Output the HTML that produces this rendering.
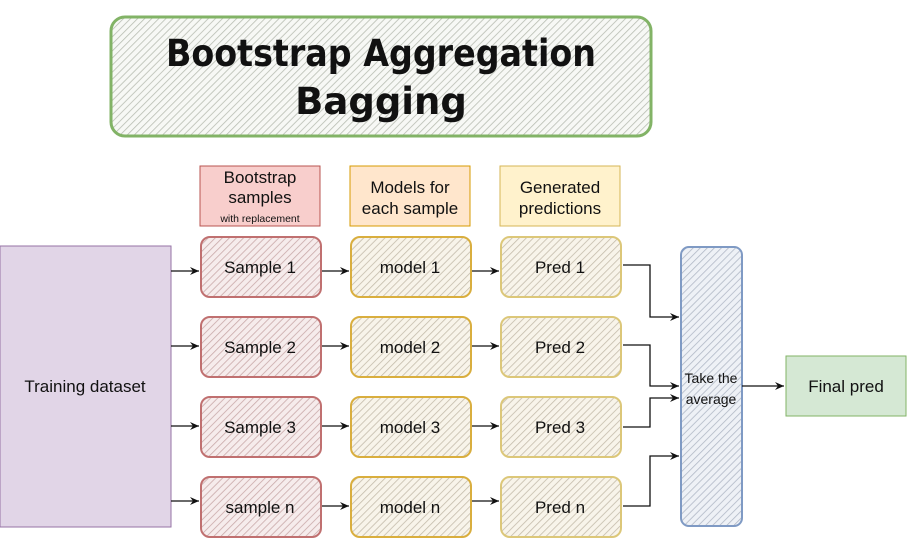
<!DOCTYPE html>
<html><head><meta charset="utf-8"><style>
html,body{margin:0;padding:0;background:#fff;width:910px;height:541px;overflow:hidden}
svg text{font-family:"Liberation Sans",sans-serif;fill:#111}
</style></head><body>
<svg width="910" height="541" viewBox="0 0 910 541" xmlns="http://www.w3.org/2000/svg">
<defs>
<pattern id="hg" width="5" height="5" patternUnits="userSpaceOnUse" patternTransform="rotate(45)"><rect width="5" height="5" fill="#f7f8f5"/><line x1="0" y1="0" x2="0" y2="5" stroke="#b8bdb2" stroke-width="1.6"/></pattern>
<pattern id="hr" width="5" height="5" patternUnits="userSpaceOnUse" patternTransform="rotate(45)"><rect width="5" height="5" fill="#f6ecec"/><line x1="0" y1="0" x2="0" y2="5" stroke="#c9a9a9" stroke-width="1.6"/></pattern>
<pattern id="hy" width="5" height="5" patternUnits="userSpaceOnUse" patternTransform="rotate(45)"><rect width="5" height="5" fill="#f8f4ea"/><line x1="0" y1="0" x2="0" y2="5" stroke="#c4bcab" stroke-width="1.6"/></pattern>
<pattern id="hb" width="5" height="5" patternUnits="userSpaceOnUse" patternTransform="rotate(45)"><rect width="5" height="5" fill="#eef1f6"/><line x1="0" y1="0" x2="0" y2="5" stroke="#b1b8c6" stroke-width="1.6"/></pattern>
<marker id="a" markerWidth="10" markerHeight="8" refX="9" refY="4" orient="auto" markerUnits="userSpaceOnUse"><path d="M0,0 L9,4 L0,8 L3,4 Z" fill="#111"/></marker>
</defs>

<rect x="111" y="17" width="540" height="119" rx="14" fill="url(#hg)" stroke="#82b366" stroke-width="3"/>
<text x="381" y="66" font-size="37" font-weight="bold" text-anchor="middle" style="font-family:'DejaVu Sans',sans-serif" textLength="430" lengthAdjust="spacingAndGlyphs">Bootstrap Aggregation</text>
<text x="381" y="114" font-size="37" font-weight="bold" text-anchor="middle" style="font-family:'DejaVu Sans',sans-serif">Bagging</text>

<rect x="200" y="166" width="120" height="60" fill="#f8cecc" stroke="#b85450"/>
<text x="260" y="183" font-size="17" text-anchor="middle">Bootstrap</text>
<text x="260" y="203" font-size="17" text-anchor="middle">samples</text>
<text x="260" y="222" font-size="10.5" text-anchor="middle">with replacement</text>
<rect x="350" y="166" width="120" height="60" fill="#ffe6cc" stroke="#d79b00"/>
<text x="410" y="193" font-size="17" text-anchor="middle">Models for</text>
<text x="410" y="214" font-size="17" text-anchor="middle">each sample</text>
<rect x="500" y="166" width="120" height="60" fill="#fff2cc" stroke="#d6b656"/>
<text x="560" y="193" font-size="17" text-anchor="middle">Generated</text>
<text x="560" y="214" font-size="17" text-anchor="middle">predictions</text>

<rect x="0" y="246" width="171" height="281" fill="#e1d5e7" stroke="#9673a6"/>
<text x="85" y="392" font-size="17" text-anchor="middle">Training dataset</text>

<g stroke-width="2">
<rect x="201" y="237" width="120" height="60" rx="9" fill="url(#hr)" stroke="#c07070"/>
<rect x="201" y="317" width="120" height="60" rx="9" fill="url(#hr)" stroke="#c07070"/>
<rect x="201" y="397" width="120" height="60" rx="9" fill="url(#hr)" stroke="#c07070"/>
<rect x="201" y="477" width="120" height="60" rx="9" fill="url(#hr)" stroke="#c07070"/>
<rect x="351" y="237" width="120" height="60" rx="9" fill="url(#hy)" stroke="#d9ae3e"/>
<rect x="351" y="317" width="120" height="60" rx="9" fill="url(#hy)" stroke="#d9ae3e"/>
<rect x="351" y="397" width="120" height="60" rx="9" fill="url(#hy)" stroke="#d9ae3e"/>
<rect x="351" y="477" width="120" height="60" rx="9" fill="url(#hy)" stroke="#d9ae3e"/>
<rect x="501" y="237" width="120" height="60" rx="9" fill="url(#hy)" stroke="#dcc779"/>
<rect x="501" y="317" width="120" height="60" rx="9" fill="url(#hy)" stroke="#dcc779"/>
<rect x="501" y="397" width="120" height="60" rx="9" fill="url(#hy)" stroke="#dcc779"/>
<rect x="501" y="477" width="120" height="60" rx="9" fill="url(#hy)" stroke="#dcc779"/>
<rect x="681" y="247" width="61" height="279" rx="8" fill="url(#hb)" stroke="#7f9ac4"/>
</g>
<g font-size="17" text-anchor="middle">
<text x="260" y="273">Sample 1</text><text x="260" y="353">Sample 2</text><text x="260" y="433">Sample 3</text><text x="260" y="513">sample n</text>
<text x="410" y="273">model 1</text><text x="410" y="353">model 2</text><text x="410" y="433">model 3</text><text x="410" y="513">model n</text>
<text x="560" y="273">Pred 1</text><text x="560" y="353">Pred 2</text><text x="560" y="433">Pred 3</text><text x="560" y="513">Pred n</text>
</g>
<text x="711" y="383" font-size="14" text-anchor="middle">Take the</text>
<text x="711" y="404" font-size="14" text-anchor="middle">average</text>

<rect x="786" y="356" width="120" height="60" fill="#d5e8d4" stroke="#82b366"/>
<text x="846" y="392" font-size="17" text-anchor="middle">Final pred</text>

<g stroke="#111" stroke-width="1.3" fill="none" marker-end="url(#a)">
<path d="M171 271 H199"/><path d="M171 346 H199"/><path d="M171 426 H199"/><path d="M171 501 H199"/>
<path d="M322 271 H349"/><path d="M322 346 H349"/><path d="M322 426 H349"/><path d="M322 506 H349"/>
<path d="M472 271 H499"/><path d="M472 346 H499"/><path d="M472 426 H499"/><path d="M472 501 H499"/>
<path d="M623 265 H650 V317 H679"/>
<path d="M623 345 H650 V386 H679"/>
<path d="M623 427 H650 V398 H679"/>
<path d="M623 506 H650 V456 H679"/>
<path d="M742 386 H784"/>
</g>
</svg>
</body></html>
